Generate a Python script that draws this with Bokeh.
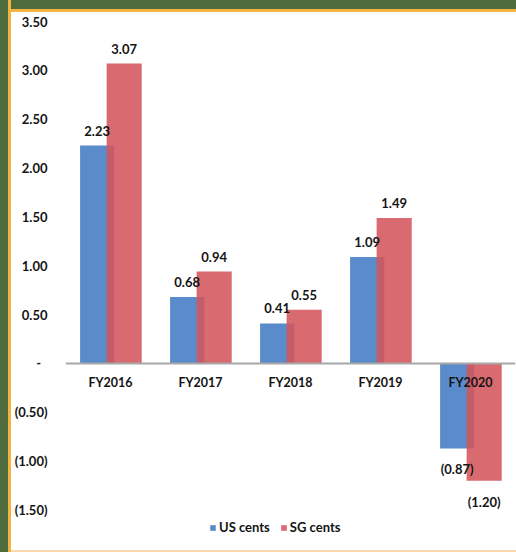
from bokeh.plotting import figure
from bokeh.models import (FactorRange, Range1d, FixedTicker, Span, Legend, LegendItem,
                          ColumnDataSource, Div)
from bokeh.layouts import column, row
from bokeh.transform import dodge
from bokeh.embed import file_html
from bokeh.resources import INLINE
from bokeh.core.properties import value

years = ["FY2016", "FY2017", "FY2018", "FY2019", "FY2020"]
us_cents = [2.23, 0.68, 0.41, 1.09, -0.87]
sg_cents = [3.07, 0.94, 0.55, 1.49, -1.20]
y_ticks = [-1.5, -1.0, -0.5, 0.0, 0.5, 1.0, 1.5, 2.0, 2.5, 3.0, 3.5]
y_tick_labels = ["(1.50)", "(1.00)", "(0.50)", "-\u00a0\u00a0", "0.50", "1.00",
                 "1.50", "2.00", "2.50", "3.00", "3.50"]

FONT = "Lato"
BLUE = "#5A8BCB"
RED = "#D4555C"


def fmt(v):
    return f"({abs(v):.2f})" if v < 0 else f"{v:.2f}"


src = ColumnDataSource(dict(
    x=years,
    us=us_cents,
    sg=sg_cents,
    us_label=[fmt(v) for v in us_cents],
    sg_label=[fmt(v) for v in sg_cents],
    us_off=[-15 if v >= 0 else 21 for v in us_cents],
    sg_off=[-15 if v >= 0 else 21 for v in sg_cents],
    zero=[0] * len(years),
))

p = figure(width=505, height=537, x_range=FactorRange(*years),
           y_range=Range1d(-1.812, 3.5),
           output_backend="svg", toolbar_location=None,
           min_border_left=52, min_border_right=1, min_border_top=9, min_border_bottom=9)
p.background_fill_color = "white"
p.border_fill_color = "white"
p.outline_line_color = None
p.grid.visible = False
p.xaxis.visible = False

ya = p.yaxis[0]
ya.ticker = FixedTicker(ticks=y_ticks)
ya.major_label_overrides = {t: l for t, l in zip(y_ticks, y_tick_labels)}
ya.axis_line_color = None
ya.major_tick_line_color = None
ya.minor_tick_line_color = None
ya.major_label_standoff = 12
ya.major_label_text_font = FONT
ya.major_label_text_font_style = "bold"
ya.major_label_text_font_size = "13px"
ya.major_label_text_color = "#141414"

r_us = p.vbar(x=dodge("x", -0.148, range=p.x_range), top="us", bottom=0, width=0.38,
              source=src, fill_color=BLUE, line_color=None)
r_sg = p.vbar(x=dodge("x", 0.152, range=p.x_range), top="sg", bottom=0, width=0.39,
              source=src, fill_color=RED, fill_alpha=0.88, line_color=None)

p.add_layout(Span(location=0, dimension="width", line_color="#A8A8A8", line_width=2))

common = dict(text_font=value(FONT), text_font_style="bold",
              text_align="center", text_baseline="middle", text_color="#141414")
p.text(x=dodge("x", -0.148, range=p.x_range), y="us", text="us_label", y_offset="us_off",
       source=src, text_font_size="13px", **common)
p.text(x=dodge("x", 0.152, range=p.x_range), y="sg", text="sg_label", y_offset="sg_off",
       source=src, text_font_size="13px", **common)
p.text(x="x", y="zero", text="x", y_offset=19, source=src, text_font_size="12.5px", **common)

legend = Legend(items=[LegendItem(label="US cents", renderers=[r_us]),
                       LegendItem(label="SG cents", renderers=[r_sg])],
                location=(144, 5), orientation="horizontal",
                glyph_width=7, glyph_height=7, label_height=14, label_standoff=3,
                spacing=10, padding=0, margin=0,
                background_fill_alpha=0, border_line_color=None,
                label_text_font=FONT, label_text_font_style="bold",
                label_text_font_size="13px", label_text_color="#141414")
p.add_layout(legend)

left_bar = Div(text="", width=11, height=552, margin=0,
               styles={"background": "linear-gradient(to right, #4E6B3E 0px, #4E6B3E 8px, #F2B43E 8px, #F2B43E 11px)"})
top_bar = Div(text="", width=505, height=12, margin=0,
              styles={"background": "linear-gradient(to bottom, #4E6B3E 0px, #4E6B3E 9px, #F2B43E 9px, #F2B43E 12px)"})
bottom_bar = Div(text="", width=505, height=3, margin=0,
                 styles={"background": "linear-gradient(to bottom, #FFFFFF 0px, #FFFFFF 1px, #F9D7B0 1px, #F9D7B0 3px)"})

layout = row(left_bar, column(top_bar, p, bottom_bar, spacing=0, margin=0), spacing=0, margin=0)

open("out.html", "w").write(file_html(layout, INLINE))
